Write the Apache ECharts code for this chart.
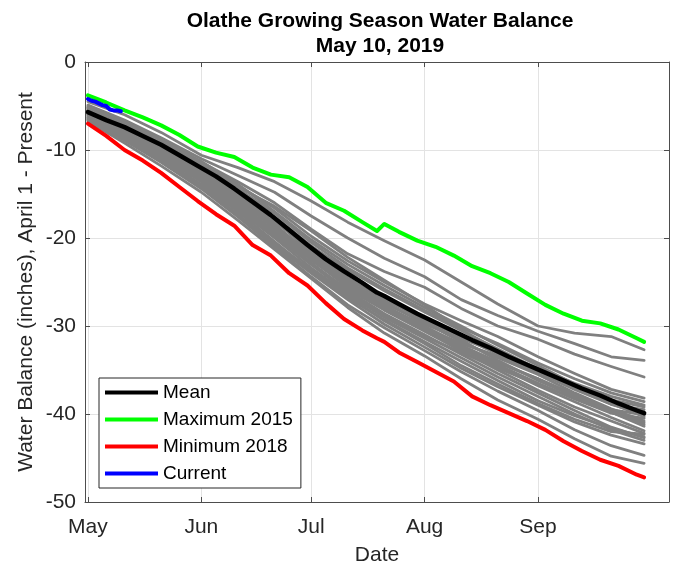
<!DOCTYPE html>
<html>
<head>
<meta charset="utf-8">
<title>Olathe Growing Season Water Balance</title>
<script src="https://cdn.jsdelivr.net/npm/echarts@6/dist/echarts.min.js"></script>
<style>
  html, body { margin: 0; padding: 0; background: #fff; }
  #chart { width: 681px; height: 570px; }
</style>
</head>
<body>
<div id="chart"></div>
<script>
// days counted from May 1
var monthTicks = [0, 31, 61, 92, 123];
var monthLabels = ["May", "Jun", "Jul", "Aug", "Sep"];

var days5 = [0, 5, 10, 15, 20, 25, 30, 35, 40, 45, 50, 55, 60, 65, 70, 75, 79, 81, 85, 90, 95, 100, 105, 110, 115, 120, 125, 130, 135, 140, 145, 150, 152];
var days10 = [0, 10, 20, 31, 41, 51, 61, 71, 81, 92, 102, 112, 123, 133, 143, 152];
var currentDays = [0, 1, 2, 3, 4, 5, 6, 7, 8, 9];

var meanValues = [-5.7, -6.6, -7.4, -8.4, -9.4, -10.6, -11.8, -13.0, -14.4, -15.9, -17.4, -19.1, -20.8, -22.4, -23.8, -25.1, -26.2, -26.6, -27.5, -28.6, -29.6, -30.6, -31.6, -32.5, -33.5, -34.4, -35.3, -36.2, -37.1, -37.9, -38.8, -39.6, -39.9];
var max2015 = [-3.8, -4.6, -5.5, -6.3, -7.2, -8.3, -9.6, -10.3, -10.8, -12.0, -12.8, -13.1, -14.2, -16.0, -16.9, -18.2, -19.2, -18.4, -19.3, -20.3, -21.0, -22.0, -23.2, -24.0, -25.0, -26.3, -27.6, -28.6, -29.4, -29.7, -30.4, -31.4, -31.8];
var min2018 = [-7.0, -8.4, -10.0, -11.2, -12.6, -14.2, -15.8, -17.3, -18.6, -20.8, -22.0, -24.0, -25.4, -27.4, -29.2, -30.5, -31.4, -31.8, -33.0, -34.1, -35.2, -36.3, -38.0, -39.0, -39.9, -40.8, -41.8, -43.1, -44.2, -45.2, -45.9, -46.9, -47.2];
var current2019 = [-4.2, -4.4, -4.5, -4.7, -4.9, -5.0, -5.4, -5.5, -5.5, -5.6];

// other years (grey)
var otherYears = [
  [-4.5, -6.0, -8.0, -10.6, -12.0, -13.6, -15.8, -18.2, -20.3, -22.5, -25.0, -27.5, -30.0, -30.8, -31.2, -32.7],
  [-4.9, -6.6, -8.6, -11.0, -12.9, -14.8, -17.5, -20.0, -22.3, -24.4, -27.0, -28.8, -30.6, -32.0, -33.5, -33.9],
  [-5.0, -6.8, -8.9, -11.4, -13.6, -16.0, -19.0, -21.8, -23.8, -25.6, -28.0, -30.0, -31.5, -33.2, -34.6, -35.8],
  [-5.2, -6.9, -9.0, -11.6, -14.0, -16.6, -19.8, -22.6, -25.0, -27.5, -29.4, -31.2, -33.5, -35.4, -37.2, -38.2],
  [-5.3, -7.0, -9.1, -11.8, -14.4, -17.2, -20.5, -23.4, -25.8, -28.2, -30.2, -32.0, -34.2, -36.0, -37.6, -38.6],
  [-5.5, -7.2, -9.0, -11.5, -14.6, -17.9, -21.5, -24.5, -27.2, -29.8, -31.4, -33.0, -34.8, -36.5, -38.0, -39.0],
  [-5.6, -7.5, -9.7, -12.4, -15.2, -18.2, -21.0, -23.6, -26.0, -28.4, -30.5, -32.6, -34.9, -36.9, -38.8, -40.3],
  [-5.8, -7.8, -10.0, -12.6, -15.5, -18.6, -21.8, -24.9, -27.4, -29.6, -31.8, -33.6, -35.5, -37.6, -39.4, -40.8],
  [-6.0, -7.6, -9.5, -12.2, -14.9, -17.6, -20.9, -23.8, -26.9, -29.4, -31.6, -33.9, -36.2, -38.0, -39.8, -41.4],
  [-5.9, -7.9, -10.3, -13.0, -16.0, -19.2, -22.5, -25.4, -27.7, -30.0, -32.2, -34.1, -36.0, -37.8, -39.6, -41.0],
  [-6.2, -8.1, -10.2, -12.9, -15.8, -18.8, -22.0, -25.0, -27.6, -30.3, -32.6, -34.6, -36.8, -38.6, -40.4, -41.9],
  [-6.3, -8.3, -10.6, -13.4, -16.4, -19.6, -23.0, -25.8, -28.2, -30.6, -32.8, -35.0, -37.3, -39.2, -40.8, -42.2],
  [-5.4, -7.1, -9.2, -12.1, -15.0, -18.4, -22.2, -25.2, -27.9, -30.4, -32.4, -34.4, -36.5, -38.3, -39.9, -40.5],
  [-5.7, -7.7, -9.9, -12.7, -15.6, -18.9, -22.4, -25.6, -28.0, -30.2, -32.0, -33.4, -35.3, -37.2, -38.9, -39.5],
  [-6.1, -8.0, -10.4, -13.2, -16.2, -19.4, -22.8, -26.0, -28.6, -31.0, -33.2, -35.4, -37.6, -39.6, -41.5, -42.7],
  [-6.4, -8.6, -11.0, -13.9, -17.0, -20.4, -23.8, -26.8, -29.3, -31.8, -34.0, -36.2, -38.5, -40.2, -41.6, -42.6],
  [-6.6, -8.9, -11.4, -14.4, -17.6, -21.0, -24.4, -27.6, -30.2, -32.8, -35.2, -37.4, -39.6, -41.8, -43.6, -44.7],
  [-6.7, -9.2, -11.8, -14.8, -18.0, -21.3, -24.6, -27.9, -30.8, -33.4, -36.0, -38.4, -40.6, -42.8, -44.8, -45.6],
  [-6.5, -8.8, -11.2, -14.1, -17.3, -20.8, -24.0, -27.0, -29.8, -32.4, -34.8, -36.9, -39.0, -40.9, -42.4, -43.4],
  [-6.3, -8.4, -10.8, -13.6, -16.8, -20.0, -23.4, -26.4, -29.0, -31.4, -33.6, -35.8, -38.0, -40.0, -41.8, -43.0],
  [-5.1, -6.8, -8.8, -11.3, -13.9, -17.0, -20.2, -23.0, -25.4, -27.9, -30.0, -32.2, -34.5, -36.6, -38.6, -39.8],
  [-5.9, -7.3, -9.4, -12.3, -15.3, -18.0, -21.6, -24.7, -27.0, -29.2, -31.2, -33.2, -35.3, -37.0, -38.4, -39.2],
  [-6.0, -8.2, -10.6, -13.6, -16.6, -19.8, -23.0, -26.2, -28.8, -31.2, -33.0, -34.8, -36.6, -38.2, -39.8, -41.2],
  [-5.5, -7.4, -9.6, -12.4, -15.4, -18.5, -21.9, -25.0, -27.8, -30.4, -32.4, -34.2, -36.0, -37.9, -39.5, -40.1],
  [-5.2, -7.0, -9.2, -11.9, -14.2, -16.4, -19.2, -22.2, -24.8, -27.6, -30.4, -32.8, -35.0, -37.0, -38.9, -40.0],
  [-6.5, -8.7, -11.3, -14.2, -17.4, -20.6, -23.6, -26.6, -29.4, -32.0, -34.5, -36.6, -38.8, -40.6, -42.0, -42.3]
];

var FONT = "Liberation Sans";
var AXIS_COLOR = "#4d4d4d";
var TEXT_COLOR = "#262626";

function pairs(xs, ys) {
  return xs.map(function (x, i) { return [x, ys[i]]; });
}

function lineSeries(name, xs, ys, color, width) {
  return {
    name: name,
    type: "line",
    data: pairs(xs, ys),
    showSymbol: false,
    symbol: "none",
    itemStyle: { color: color },
    lineStyle: { color: color, width: width, join: "round", cap: "round" },
    emphasis: { disabled: true },
    silent: true
  };
}

var series = otherYears.map(function (vals, i) {
  return lineSeries("year" + i, days10, vals, "#808080", 2.8);
});
series.push(lineSeries("Mean", days5, meanValues, "#000000", 4.5));
series.push(lineSeries("Maximum 2015", days5, max2015, "#00ff00", 4));
series.push(lineSeries("Minimum 2018", days5, min2018, "#ff0000", 4));
series.push(lineSeries("Current", currentDays, current2019, "#0000ff", 4));

var chart = echarts.init(document.getElementById("chart"), null, { renderer: "canvas" });

chart.setOption({
  animation: false,
  backgroundColor: "#ffffff",
  textStyle: { fontFamily: FONT },
  title: {
    text: "Olathe Growing Season Water Balance\nMay 10, 2019",
    left: 375,
    top: 4,
    textAlign: "center",
    textStyle: {
      fontFamily: FONT,
      fontSize: 21,
      fontWeight: "bold",
      color: "#000000",
      lineHeight: 25
    }
  },
  legend: {
    data: ["Mean", "Maximum 2015", "Minimum 2018", "Current"],
    orient: "vertical",
    left: 99,
    top: 378,
    icon: "rect",
    itemWidth: 53,
    itemHeight: 4,
    itemGap: 8,
    padding: [5, 8, 5, 6],
    backgroundColor: "#ffffff",
    borderColor: "#262626",
    borderWidth: 1,
    selectedMode: false,
    textStyle: { fontFamily: FONT, fontSize: 19, color: "#000000", padding: [0, 0, 0, 0] }
  },
  grid: {
    left: 85,
    right: 12,
    top: 62,
    bottom: 68,
    containLabel: false,
    outerBoundsMode: "none",
    show: false
  },
  xAxis: [
    {
      type: "value",
      min: -0.8,
      max: 158.8,
      name: "Date",
      nameLocation: "middle",
      nameGap: 43,
      nameMoveOverlap: false,
      nameTextStyle: { fontFamily: FONT, fontSize: 21, color: TEXT_COLOR },
      axisLine: { show: true, onZero: false, lineStyle: { color: AXIS_COLOR, width: 1 } },
      axisTick: { show: true, inside: true, length: 5, customValues: monthTicks, lineStyle: { color: AXIS_COLOR } },
      axisLabel: {
        customValues: monthTicks,
        margin: 15,
        fontFamily: FONT,
        fontSize: 21,
        color: TEXT_COLOR,
        formatter: function (v) {
          var i = monthTicks.indexOf(Math.round(v));
          return i >= 0 ? monthLabels[i] : "";
        }
      },
      splitLine: { show: true, lineStyle: { color: "#e3e3e3", width: 1 } }
    },
    {
      type: "value",
      position: "top",
      min: -0.8,
      max: 158.8,
      axisLine: { show: true, onZero: false, lineStyle: { color: AXIS_COLOR, width: 1 } },
      axisTick: { show: true, inside: true, length: 5, customValues: monthTicks, lineStyle: { color: AXIS_COLOR } },
      axisLabel: { show: false },
      splitLine: { show: false }
    }
  ],
  yAxis: [
    {
      type: "value",
      min: -50,
      max: 0,
      interval: 10,
      name: "Water Balance (inches), April 1 - Present",
      nameLocation: "middle",
      nameGap: 48,
      nameMoveOverlap: false,
      nameTextStyle: { fontFamily: FONT, fontSize: 21, color: TEXT_COLOR },
      axisLine: { show: true, onZero: false, lineStyle: { color: AXIS_COLOR, width: 1 } },
      axisTick: { show: true, inside: true, length: 5, lineStyle: { color: AXIS_COLOR } },
      axisLabel: { margin: 9, fontFamily: FONT, fontSize: 21, color: TEXT_COLOR },
      splitLine: { show: true, lineStyle: { color: "#e3e3e3", width: 1 } }
    },
    {
      type: "value",
      position: "right",
      min: -50,
      max: 0,
      interval: 10,
      axisLine: { show: true, onZero: false, lineStyle: { color: AXIS_COLOR, width: 1 } },
      axisTick: { show: true, inside: true, length: 5, lineStyle: { color: AXIS_COLOR } },
      axisLabel: { show: false },
      splitLine: { show: false }
    }
  ],
  series: series
});
</script>
</body>
</html>
